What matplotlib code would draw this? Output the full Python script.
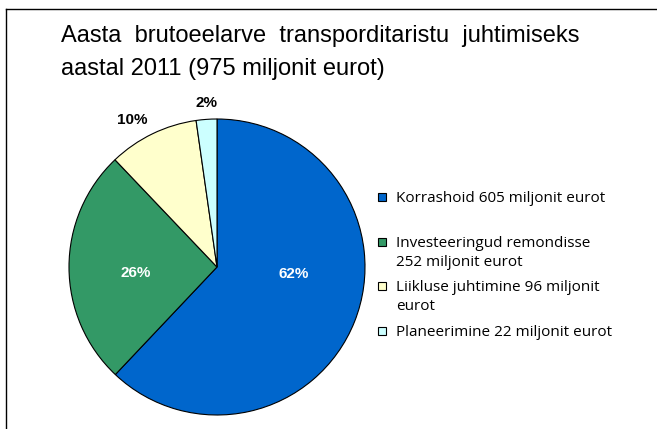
import matplotlib
matplotlib.use("Agg")
import matplotlib.pyplot as plt
from matplotlib.patches import Rectangle
from matplotlib.lines import Line2D

# andmed
nimed = ["Korrashoid 605 miljonit eurot",
         "Investeeringud remondisse\n252 miljonit eurot",
         "Liikluse juhtimine 96 miljonit\neurot",
         "Planeerimine 22 miljonit eurot"]
summad = [605, 252, 96, 22]
varvid = ["#0066CC", "#339966", "#FFFFCC", "#CCFFFF"]
protsendi_varv = ["white", "white", "black", "black"]
# protsentide asukohad (pirukas, raadius = 1)
protsendi_koht = [(0.52, -0.05), (-0.55, -0.04), (-0.57, 0.99), (-0.07, 1.11)]

W, H = 657, 429
fig = plt.figure(figsize=(W / 100, H / 100), dpi=100)

# raam vasakul ja üleval
fig.add_artist(Line2D([6 / W, 6 / W], [0, 1 - 9 / H], color="black", lw=1))
fig.add_artist(Line2D([6 / W, 1], [1 - 9 / H, 1 - 9 / H], color="black", lw=1))

fig.text(61 / W, 1 - 42 / H, "Aasta  brutoeelarve  transporditaristu  juhtimiseks",
         fontsize=17, family="Liberation Sans", va="baseline")
fig.text(61 / W, 1 - 75 / H, "aastal 2011 (975 miljonit eurot)",
         fontsize=17, family="Liberation Sans", va="baseline")

cx, cy, r = 217, 267, 148
ax = fig.add_axes([(cx - r) / W, (H - cy - r) / H, 2 * r / W, 2 * r / H])
wedges, texts, autotexts = ax.pie(summad, colors=varvid, startangle=90, counterclock=False,
                                  autopct="%1.0f%%", radius=1,
                                  wedgeprops=dict(edgecolor="black", linewidth=0.8),
                                  textprops=dict(fontsize=11, fontweight="bold",
                                                 family="Liberation Sans"))
for t, c, (x, y) in zip(autotexts, protsendi_varv, protsendi_koht):
    t.set_color(c)
    t.set_position((x, y))
ax.set_xlim(-1, 1)
ax.set_ylim(-1, 1)
ax.set_aspect("equal")
ax.axis("off")

# legend
for i, (nimi, v) in enumerate(zip(nimed, varvid)):
    y = 197 + 44.7 * i
    fig.add_artist(Rectangle((378 / W, 1 - (y + 4) / H), 8 / W, 8 / H,
                             facecolor=v, edgecolor="black", lw=0.8))
    fig.text(396 / W, 1 - (y - 6) / H, nimi, fontsize=11, family="Open Sans",
             va="top", linespacing=1.35)

fig.savefig("out.png", dpi=100)
